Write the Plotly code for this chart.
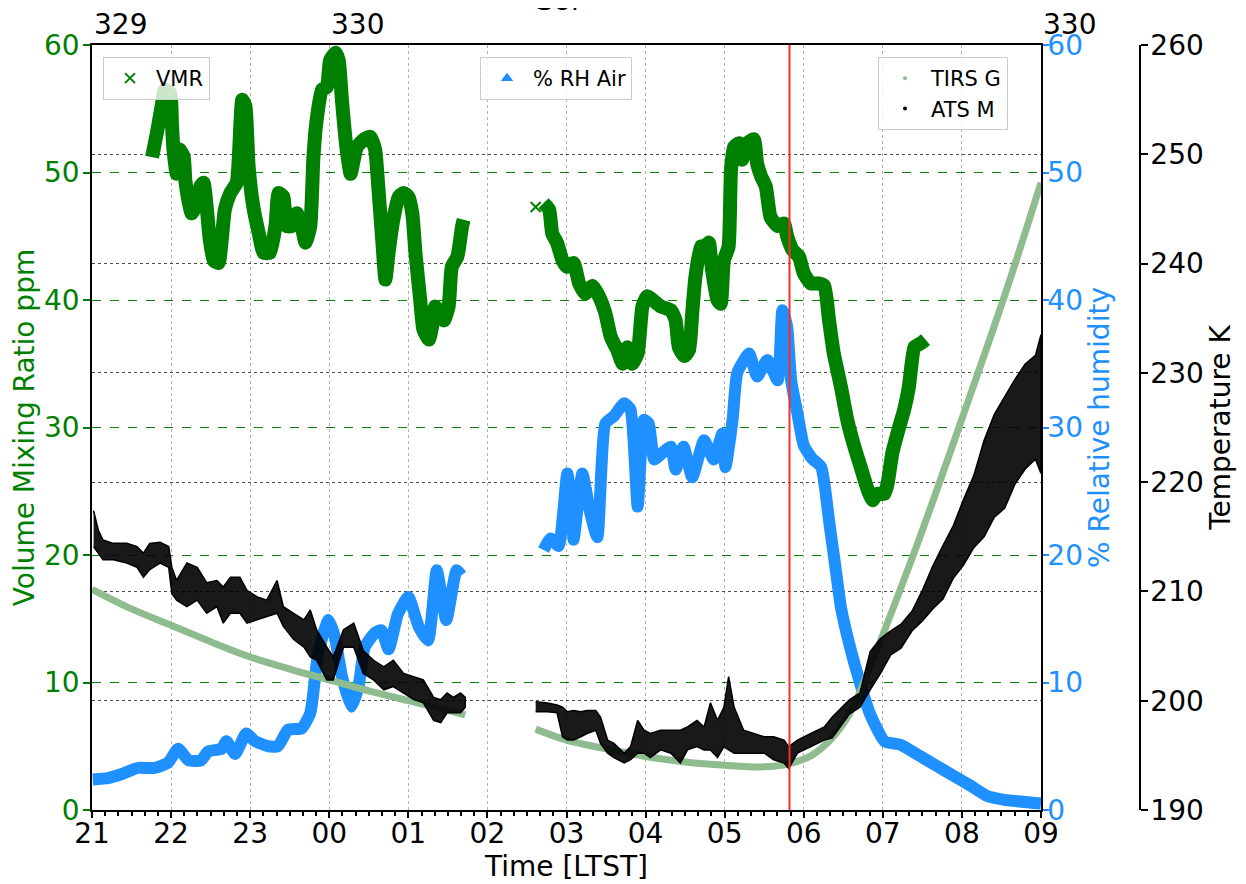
import plotly.graph_objects as go

# ---------------- data ----------------
HOUR_TICKS = [21, 22, 23, 24, 25, 26, 27, 28, 29, 30, 31, 32, 33]
HOUR_LABELS = ["21", "22", "23", "00", "01", "02", "03", "04", "05", "06", "07", "08", "09"]
SOL_TICK_HOURS = [21, 24, 33]
SOL_LABELS = ["329", "330", "330"]

# Volume mixing ratio (ppm), night segment
VMR_H1 = [21.76, 21.82, 21.88, 21.92, 21.99, 22.01, 22.03, 22.07, 22.11, 22.16,
          22.18, 22.22, 22.26, 22.33, 22.37, 22.41, 22.45, 22.49, 22.54, 22.60,
          22.64, 22.68, 22.75, 22.83, 22.90, 22.94, 22.98, 23.04, 23.11, 23.17,
          23.25, 23.32, 23.36, 23.42, 23.46, 23.53, 23.59, 23.65, 23.70, 23.76,
          23.80, 23.84, 23.91, 23.97, 24.01, 24.08, 24.12, 24.16, 24.22, 24.27,
          24.31, 24.35, 24.44, 24.52, 24.58, 24.62, 24.67, 24.71, 24.75, 24.81,
          24.88, 24.94, 25.00, 25.05, 25.09, 25.15, 25.19, 25.26, 25.30, 25.34,
          25.38, 25.45, 25.51, 25.55, 25.62, 25.68, 25.70]
VMR_V1 = [51.2, 53.1, 55.2, 56.5, 56.2, 53.9, 51.8, 49.9, 51.8, 51.2,
          49.4, 47.8, 46.8, 47.6, 48.9, 49.2, 47.3, 44.7, 43.1, 42.9,
          44.7, 47.1, 48.4, 49.2, 55.7, 55.2, 50.5, 47.3, 45.2, 43.7,
          43.7, 45.8, 48.4, 48.1, 45.8, 45.8, 46.8, 45.8, 44.5, 45.8,
          51.2, 54.1, 56.5, 56.7, 58.8, 59.4, 58.8, 55.7, 51.8, 49.9,
          51.0, 52.0, 52.6, 52.8, 51.8, 48.9, 44.7, 41.6, 43.7, 46.3,
          48.1, 48.4, 48.1, 46.8, 43.7, 40.0, 37.7, 36.9, 37.9, 39.5,
          39.2, 38.4, 39.5, 42.6, 43.4, 45.8, 46.3]
# morning segment
VMR_H2 = [26.71, 26.78, 26.82, 26.88, 26.95, 27.01, 27.09, 27.16, 27.24, 27.33,
          27.41, 27.49, 27.56, 27.64, 27.71, 27.77, 27.83, 27.90, 27.96, 28.02,
          28.11, 28.19, 28.32, 28.38, 28.42, 28.49, 28.55, 28.59, 28.63, 28.70,
          28.76, 28.80, 28.84, 28.91, 28.95, 28.99, 29.05, 29.08, 29.12, 29.18,
          29.22, 29.29, 29.37, 29.41, 29.46, 29.52, 29.58, 29.67, 29.75, 29.79,
          29.86, 29.94, 30.00, 30.09, 30.19, 30.26, 30.32, 30.38, 30.47, 30.55,
          30.64, 30.72, 30.81, 30.87, 30.93, 31.02, 31.06, 31.12, 31.21, 31.27,
          31.33, 31.40, 31.48, 31.54]
VMR_V2 = [47.6, 47.1, 45.2, 44.5, 43.1, 42.6, 42.9, 41.3, 40.5, 41.1,
          40.3, 39.0, 37.1, 36.1, 35.0, 36.3, 35.0, 35.8, 39.5, 40.3,
          39.9, 39.5, 39.2, 38.4, 36.3, 35.6, 36.1, 39.0, 41.8, 44.2,
          44.2, 44.5, 42.4, 40.0, 39.7, 43.1, 44.2, 50.2, 52.0, 52.3,
          51.0, 52.3, 52.6, 50.7, 49.7, 48.9, 46.5, 45.8, 46.0, 45.0,
          43.9, 43.4, 42.1, 41.3, 41.3, 41.1, 38.4, 35.8, 33.2, 30.6,
          28.5, 26.9, 25.1, 24.3, 24.8, 24.8, 25.6, 28.0, 30.1, 31.4,
          33.2, 36.3, 36.6, 36.9]
VMR_FIRST_H = [26.61]
VMR_FIRST_V = [47.3]

# Relative humidity (%)
RH_H1 = [21.01, 21.20, 21.37, 21.58, 21.79, 21.96, 22.09, 22.22, 22.38, 22.47,
         22.64, 22.70, 22.81, 22.95, 23.06, 23.23, 23.35, 23.48, 23.65, 23.76,
         23.86, 23.99, 24.07, 24.16, 24.28, 24.37, 24.45, 24.58, 24.66, 24.75,
         24.87, 25.00, 25.13, 25.25, 25.36, 25.48, 25.61, 25.67]
RH_V1 = [2.4, 2.5, 2.8, 3.3, 3.3, 3.7, 4.8, 3.9, 3.9, 4.6,
         4.8, 5.4, 4.4, 6.0, 5.4, 5.0, 5.0, 6.3, 6.4, 7.6,
         12.3, 14.9, 13.6, 10.5, 8.1, 9.7, 12.8, 13.9, 14.1, 12.6,
         15.4, 16.7, 14.4, 13.3, 18.8, 14.9, 18.8, 18.4]
RH_H2 = [26.71, 26.80, 26.90, 27.01, 27.07, 27.09, 27.20, 27.30, 27.39, 27.49,
         27.60, 27.73, 27.81, 27.90, 27.98, 28.04, 28.11, 28.21, 28.32, 28.38,
         28.48, 28.59, 28.74, 28.86, 28.97, 29.01, 29.10, 29.16, 29.31, 29.41,
         29.54, 29.67, 29.73, 29.79, 29.84, 29.92, 30.00, 30.10, 30.22, 30.32,
         30.41, 30.47, 30.58, 30.71, 30.84, 31.02, 31.23, 31.45, 31.67, 31.89,
         32.11, 32.32, 32.54, 33.00]
RH_V2 = [20.4, 21.3, 20.7, 26.4, 23.3, 21.2, 26.4, 23.3, 21.4, 30.3,
         30.9, 31.9, 31.4, 23.8, 30.6, 30.3, 27.5, 28.0, 28.5, 26.7,
         28.5, 26.1, 29.0, 27.5, 29.5, 26.9, 30.6, 34.3, 35.8, 34.0,
         35.3, 33.7, 39.2, 37.9, 33.7, 31.1, 28.6, 27.6, 26.9, 22.7,
         18.6, 15.9, 12.9, 10.0, 7.5, 5.4, 5.1, 4.3, 3.5, 2.7,
         1.9, 1.1, 0.8, 0.5]

# TIRS ground temperature (K)
TIRS_H1 = [21.0, 21.5, 22.0, 22.5, 23.0, 23.5, 24.0, 24.5, 25.0, 25.4, 25.72]
TIRS_T1 = [210.2, 208.4, 206.9, 205.4, 204.0, 202.9, 201.9, 200.9, 200.0, 199.3, 198.7]
TIRS_H2 = [26.61, 27.0, 27.5, 28.0, 28.5, 29.0, 29.5, 29.8, 30.1, 30.36,
           30.58, 30.8, 31.02, 31.45, 32.02, 32.56, 33.0]
TIRS_T2 = [197.4, 196.4, 195.6, 194.9, 194.4, 194.1, 193.95, 194.2, 195.0, 196.6,
           198.8, 202.4, 206.4, 214.6, 226.2, 237.5, 247.4]

# ATS air temperature (K): upper / lower edge of the scattered points
ATS_H1 = [21.02, 21.08, 21.14, 21.27, 21.44, 21.57, 21.65, 21.73, 21.86, 21.97,
          22.01, 22.07, 22.20, 22.33, 22.45, 22.58, 22.66, 22.75, 22.87, 22.96,
          23.09, 23.21, 23.34, 23.42, 23.55, 23.68, 23.76, 23.84, 23.97, 24.05,
          24.18, 24.31, 24.43, 24.56, 24.69, 24.81, 24.94, 25.07, 25.19, 25.32,
          25.41, 25.49, 25.57, 25.66, 25.72]
ATS_HI1 = [217.4, 215.6, 214.7, 214.4, 214.4, 214.1, 213.5, 214.4, 214.5, 214.1,
           212.2, 211.0, 212.6, 212.2, 210.8, 211.0, 210.4, 211.3, 211.3, 210.1,
           209.5, 209.2, 211.0, 208.6, 208.0, 207.4, 208.3, 206.5, 204.9, 204.0,
           206.5, 207.1, 204.6, 203.7, 203.1, 203.7, 202.5, 202.2, 201.9, 200.3,
           200.1, 200.7, 200.3, 200.7, 200.3]
ATS_LO1 = [214.1, 213.5, 212.9, 212.9, 212.6, 212.2, 211.3, 212.0, 212.6, 212.2,
           209.8, 209.2, 208.6, 209.2, 208.0, 208.6, 207.1, 208.0, 208.0, 207.1,
           207.4, 207.7, 208.0, 206.8, 205.6, 204.9, 204.0, 203.7, 201.9, 201.9,
           204.9, 204.9, 202.5, 201.9, 201.0, 201.3, 200.7, 200.1, 199.8, 198.2,
           198.0, 198.9, 198.9, 198.9, 199.4]
ATS_H2 = [26.61, 26.76, 26.88, 26.95, 27.01, 27.09, 27.18, 27.26, 27.37, 27.43,
          27.52, 27.60, 27.73, 27.81, 27.90, 27.98, 28.06, 28.19, 28.32, 28.44,
          28.53, 28.65, 28.74, 28.82, 28.91, 28.99, 29.05, 29.12, 29.24, 29.37,
          29.50, 29.62, 29.75, 29.81, 29.92, 30.09, 30.26, 30.36, 30.58, 30.71,
          30.84, 30.97, 31.10, 31.23, 31.37, 31.50, 31.63, 31.76, 31.89, 32.02,
          32.15, 32.28, 32.41, 32.54, 32.67, 32.80, 32.93, 33.00]
ATS_HI2 = [199.9, 199.8, 199.6, 199.4, 199.0, 199.1, 199.0, 199.1, 199.1, 198.5,
           196.4, 196.1, 195.2, 195.8, 198.2, 197.3, 197.0, 197.3, 197.3, 197.3,
           197.6, 198.2, 197.6, 199.8, 198.2, 199.4, 202.2, 199.4, 197.3, 197.0,
           196.7, 196.7, 196.4, 195.8, 196.4, 197.0, 197.6, 198.5, 200.1, 200.7,
           204.5, 205.7, 206.4, 207.0, 208.2, 210.1, 212.3, 214.2, 216.0, 218.4,
           220.6, 223.8, 226.2, 227.8, 229.4, 230.8, 231.6, 233.5]
ATS_LO2 = [199.0, 199.0, 198.9, 196.7, 196.4, 196.4, 196.7, 197.0, 197.3, 196.1,
           195.2, 194.8, 194.3, 194.6, 195.2, 195.2, 194.8, 195.5, 195.2, 194.3,
           195.5, 195.8, 195.5, 195.5, 194.8, 195.8, 195.5, 195.2, 195.2, 195.2,
           195.2, 194.6, 194.3, 193.8, 195.2, 195.8, 196.4, 196.6, 198.8, 199.4,
           201.0, 202.5, 204.2, 204.8, 206.4, 207.3, 208.4, 209.3, 211.2, 212.4,
           214.0, 215.0, 216.8, 217.6, 219.8, 221.2, 222.1, 220.8]

RED_LINE_HOUR = 29.82

# ---------------- styling ----------------
GREEN = "#008000"
BLUE = "#1E90FF"
TIRS_COLOR = "#8FBC8F"
FONT = "DejaVu Sans"
FS = 28
# the page body adds an 8 px offset; the figure is sized to fill the window
W, H = 1238, 876
ML, MR, MT, MB = 84, 6, 37, 74
PW = W - ML - MR
PH = H - MT - MB
X_END = 949 / PW
T_AXIS_POS = 1048 / PW

fig = go.Figure()

# VMR
fig.add_trace(go.Scatter(x=VMR_H1 + [None] + VMR_H2, y=VMR_V1 + [None] + VMR_V2,
                         mode="lines", line=dict(color=GREEN, width=14, shape="spline", smoothing=0.5),
                         showlegend=False, yaxis="y", connectgaps=False, hoverinfo="skip"))
fig.add_trace(go.Scatter(x=VMR_FIRST_H, y=VMR_FIRST_V, mode="markers", name="VMR",
                         marker=dict(symbol="x-thin", size=10, line=dict(color=GREEN, width=2), color=GREEN),
                         yaxis="y", legend="legend"))

# RH
fig.add_trace(go.Scatter(x=RH_H1 + [None] + RH_H2, y=RH_V1 + [None] + RH_V2,
                         mode="lines", line=dict(color=BLUE, width=12, shape="spline", smoothing=0.5),
                         showlegend=False, yaxis="y2", connectgaps=False, hoverinfo="skip"))
fig.add_trace(go.Scatter(x=[None], y=[None], mode="markers", name="% RH Air",
                         marker=dict(symbol="triangle-up", size=11, color=BLUE),
                         yaxis="y2", legend="legend2"))

# TIRS ground temperature
fig.add_trace(go.Scatter(x=TIRS_H1 + [None] + TIRS_H2, y=TIRS_T1 + [None] + TIRS_T2,
                         mode="lines", line=dict(color=TIRS_COLOR, width=7, shape="spline"),
                         showlegend=False, yaxis="y3", connectgaps=False, hoverinfo="skip"))

# ATS air temperature (scatter cloud as filled envelope)
for hh, hi, lo in [(ATS_H1, ATS_HI1, ATS_LO1), (ATS_H2, ATS_HI2, ATS_LO2)]:
    fig.add_trace(go.Scatter(x=hh + hh[::-1], y=hi + lo[::-1], mode="lines",
                             fill="toself", fillcolor="rgba(0,0,0,0.9)",
                             line=dict(color="black", width=1.5),
                             showlegend=False, yaxis="y3", hoverinfo="skip"))

fig.add_trace(go.Scatter(x=[None], y=[None], mode="markers", name="TIRS G",
                         marker=dict(symbol="circle", size=4, color=TIRS_COLOR),
                         yaxis="y3", legend="legend3"))
fig.add_trace(go.Scatter(x=[None], y=[None], mode="markers", name="ATS M",
                         marker=dict(symbol="circle", size=4, color="black"),
                         yaxis="y3", legend="legend3"))

# red vertical marker
fig.add_shape(type="line", x0=RED_LINE_HOUR, x1=RED_LINE_HOUR, xref="x",
              y0=0, y1=1, yref="paper", line=dict(color="#ff2a2a", width=2), layer="above")

# top (sol) axis labels
for hx, lab in zip(SOL_TICK_HOURS, SOL_LABELS):
    fig.add_annotation(x=hx, xref="x", y=1 + 21 / PH, yref="paper", text=lab,
                       showarrow=False, xanchor="left", yanchor="middle",
                       font=dict(family=FONT, size=FS, color="black"))
# top-axis title, mostly above the visible page (only a sliver shows)
fig.add_annotation(x=(557 - 92) / PW, xref="paper", y=1 + 44 / PH, yref="paper", text="Sol",
                   showarrow=False, xanchor="center", yanchor="middle",
                   font=dict(family=FONT, size=FS, color="black"))

legend_common = dict(xanchor="left", yanchor="top", bgcolor="rgba(255,255,255,0.8)",
                     bordercolor="#cccccc", borderwidth=1, itemwidth=42,
                     font=dict(family=FONT, size=21, color="black"))

fig.update_layout(
    width=W, height=H,
    margin=dict(l=ML, r=MR, t=MT, b=MB, autoexpand=False),
    plot_bgcolor="white", paper_bgcolor="white",
    font=dict(family=FONT, size=FS, color="black"),
    legend=dict(x=11 / PW, y=1 - 12 / PH, **legend_common),
    legend2=dict(x=388 / PW, y=1 - 12 / PH, **legend_common),
    legend3=dict(x=786 / PW, y=1 - 12 / PH, **legend_common),
    xaxis=dict(domain=[0, X_END], range=[21, 33], tickmode="array",
               tickvals=HOUR_TICKS, ticktext=HOUR_LABELS, automargin=False,
               ticks="outside", ticklen=6, tickcolor="black", tickwidth=1.5,
               ticklabelstandoff=-8,
               showline=True, linecolor="black", linewidth=1.5, mirror=True,
               showgrid=True, gridcolor="#b0b0b0", griddash="dot", gridwidth=1,
               zeroline=False, tickfont=dict(size=FS),
               minor=dict(ticks="outside", ticklen=4, tick0=21, dtick=1 / 6,
                          tickcolor="black", showgrid=False),
               title=dict(text="Time [LTST]", font=dict(size=FS), standoff=6)),
    xaxis2=dict(domain=[0, X_END], range=[21, 33], overlaying="x", side="top",
                anchor="y", tickmode="array", tickvals=HOUR_TICKS, automargin=False,
                showticklabels=False, ticks="outside", ticklen=6, tickcolor="black",
                showgrid=False, showline=False, zeroline=False),
    yaxis=dict(range=[0, 60], tickmode="array", tickvals=[0, 10, 20, 30, 40, 50, 60],
               automargin=False, ticklabelstandoff=-2,
               ticks="outside", ticklen=7, tickcolor=GREEN, tickwidth=1.5,
               tickfont=dict(size=FS, color=GREEN),
               showline=True, linecolor="black", linewidth=1.5,
               showgrid=True, gridcolor=GREEN, griddash="dash", gridwidth=1,
               zeroline=False,
               title=dict(text="Volume Mixing Ratio ppm", font=dict(size=FS, color=GREEN), standoff=4)),
    yaxis2=dict(range=[0, 60], overlaying="y", side="right", anchor="x",
                tickmode="array", tickvals=[0, 10, 20, 30, 40, 50, 60], automargin=False,
                ticks="outside", ticklen=6, tickcolor=BLUE, tickwidth=1.5,
                ticklabelstandoff=-7,
                tickfont=dict(size=FS, color=BLUE),
                showline=True, linecolor="black", linewidth=1.5,
                showgrid=False, zeroline=False,
                title=dict(text="% Relative humidity", font=dict(size=FS, color=BLUE), standoff=2)),
    yaxis3=dict(range=[190, 260], overlaying="y", side="right", anchor="free",
                position=T_AXIS_POS, tickmode="array", automargin=False,
                tickvals=[190, 200, 210, 220, 230, 240, 250, 260],
                ticks="outside", ticklen=7, tickcolor="black", tickwidth=1.5,
                ticklabelstandoff=-3,
                tickfont=dict(size=FS, color="black"),
                showline=True, linecolor="black", linewidth=1.5,
                showgrid=True, gridcolor="rgba(0,0,0,0.7)", griddash="dot", gridwidth=1,
                zeroline=False,
                title=dict(text="Temperature K", font=dict(size=FS, color="black"), standoff=4)),
)

fig.write_html("out.html")
